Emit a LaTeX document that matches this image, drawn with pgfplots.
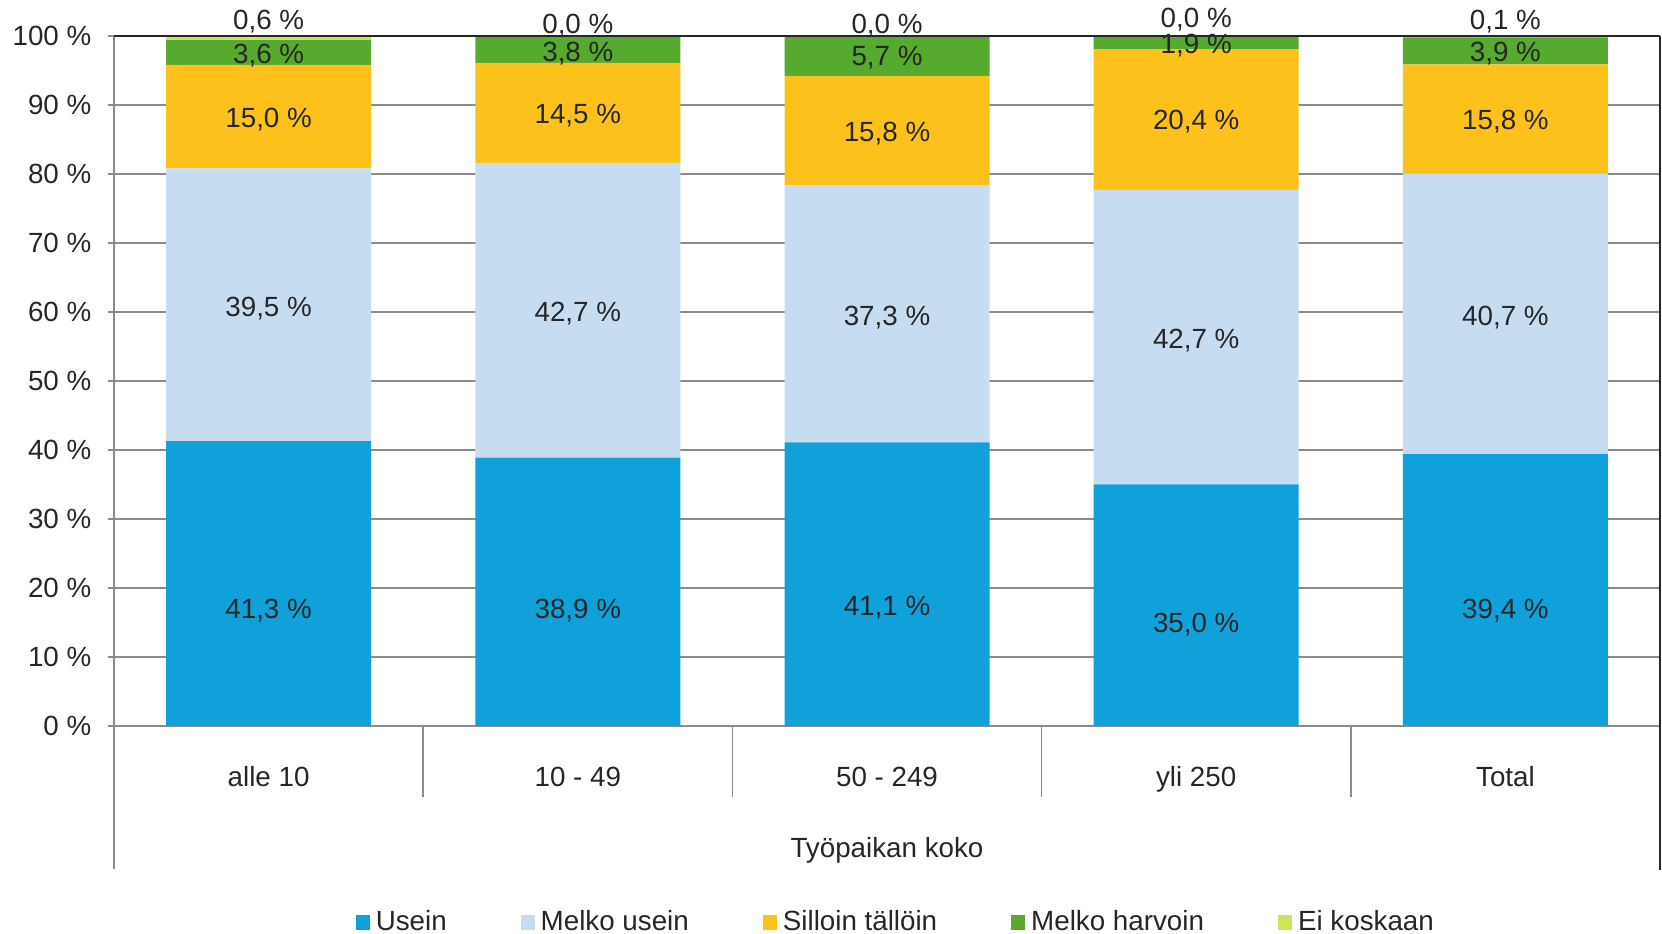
\documentclass[border=0pt]{standalone}
\usepackage{fontspec}
\setmainfont{Liberation Sans}
\usepackage{pgfplots}
\pgfplotsset{compat=1.18}
\definecolor{cUsein}{HTML}{10A0DA}
\definecolor{cMelkoUsein}{HTML}{C6DDF1}
\definecolor{cSilloin}{HTML}{FDC11C}
\definecolor{cHarvoin}{HTML}{56AA2D}
\definecolor{cEi}{HTML}{CDE55A}
\definecolor{txt}{HTML}{262626}
\definecolor{gridgray}{HTML}{8C8C8C}

\begin{document}
\begin{tikzpicture}[font=\fontsize{7.9}{9.5}\selectfont, text=txt]
\begin{axis}[
    scale only axis, width=154.6mm, height=69mm,
    xmin=-0.5, xmax=4.5, ymin=0, ymax=100,
    ybar stacked, bar width=20.5mm,
    axis x line*=bottom, axis y line*=left,
    axis line style={gridgray, line width=0.6pt},
    xtick={0,1,2,3,4},
    xticklabels={alle 10, 10 - 49, 50 - 249, yli 250, Total},
    xtick style={draw=none},
    xticklabel style={anchor=center, yshift=-4.2mm, text height=1.6ex, text depth=0.3ex},
    ytick={0,10,...,100},
    yticklabel={\pgfmathprintnumber{\tick}~\%},
    /pgf/number format/assume math mode=true,
    ytick style={gridgray, line width=0.5pt},
    tick align=outside, major tick length=0.6mm,
    yticklabel style={inner sep=0pt, anchor=east, xshift=-1.6mm},
    ymajorgrids, grid style={gridgray, line width=0.5pt},
    clip=false,
    legend columns=5,
    legend style={at={(0.507,-0.285)}, anchor=center, draw=none, inner sep=0pt,
        /tikz/every even column/.append style={column sep=6.8mm},
        nodes={inner sep=0.6mm, text=txt}},
    legend cell align=left,
    legend image code/.code={\fill[#1] (0mm,-0.75mm) rectangle (1.4mm,0.75mm);},
]
% frame lines behind the bars
\draw[black!85, line width=0.7pt] (rel axis cs:0,1) -- (rel axis cs:1,1);
\draw[black!85, line width=0.7pt] (rel axis cs:1,1) -- ([yshift=-14.4mm]rel axis cs:1,0);
\draw[gridgray, line width=0.6pt] (rel axis cs:0,0) -- ([yshift=-14.3mm]rel axis cs:0,0);
% category separators
\draw[gridgray, line width=0.5pt] (axis cs:0.5,0) -- ([yshift=-7.1mm]axis cs:0.5,0);
\draw[gridgray, line width=0.5pt] (axis cs:1.5,0) -- ([yshift=-7.1mm]axis cs:1.5,0);
\draw[gridgray, line width=0.5pt] (axis cs:2.5,0) -- ([yshift=-7.1mm]axis cs:2.5,0);
\draw[gridgray, line width=0.5pt] (axis cs:3.5,0) -- ([yshift=-7.1mm]axis cs:3.5,0);
\node at ([yshift=-12.4mm]rel axis cs:0.5,0) {Työpaikan koko};

\addplot[fill=cUsein, draw=none] coordinates {(0,41.3) (1,38.9) (2,41.1) (3,35.0) (4,39.4)};
\addlegendentry{Usein}
\addplot[fill=cMelkoUsein, draw=none] coordinates {(0,39.5) (1,42.7) (2,37.3) (3,42.7) (4,40.7)};
\addlegendentry{Melko usein}
\addplot[fill=cSilloin, draw=none] coordinates {(0,15.0) (1,14.5) (2,15.8) (3,20.4) (4,15.8)};
\addlegendentry{Silloin tällöin}
\addplot[fill=cHarvoin, draw=none] coordinates {(0,3.6) (1,3.8) (2,5.7) (3,1.9) (4,3.9)};
\addlegendentry{Melko harvoin}
\addplot[fill=cEi, draw=none] coordinates {(0,0.6) (1,0.0) (2,0.0) (3,0.0) (4,0.1)};
\addlegendentry{Ei koskaan}

\coordinate (O) at (rel axis cs:0,0);
\coordinate (T) at (rel axis cs:1,1);
\end{axis}

% data labels, drawn above the bars (x: category centre, y: percent)
\begin{scope}[shift={(O)}, x=30.92mm, y=0.69mm, every node/.style={yshift=-0.25mm}]
\node at (0.5,17.05) {41,3 \%};
\node at (0.5,60.8) {39,5 \%};
\node at (0.5,88.3) {15,0 \%};
\node at (0.5,97.5) {3,6 \%};
\node at (0.5,102.5) {0,6 \%};

\node at (1.5,17.05) {38,9 \%};
\node at (1.5,60.2) {42,7 \%};
\node at (1.5,88.8) {14,5 \%};
\node at (1.5,97.8) {3,8 \%};
\node at (1.5,101.8) {0,0 \%};

\node at (2.5,17.5) {41,1 \%};
\node at (2.5,59.6) {37,3 \%};
\node at (2.5,86.2) {15,8 \%};
\node at (2.5,97.2) {5,7 \%};
\node at (2.5,101.8) {0,0 \%};

\node at (3.5,15.05) {35,0 \%};
\node at (3.5,56.2) {42,7 \%};
\node at (3.5,87.9) {20,4 \%};
\node at (3.5,98.9) {1,9 \%};
\node at (3.5,102.8) {0,0 \%};

\node at (4.5,17.05) {39,4 \%};
\node at (4.5,59.6) {40,7 \%};
\node at (4.5,87.9) {15,8 \%};
\node at (4.5,97.8) {3,9 \%};
\node at (4.5,102.5) {0,1 \%};
\end{scope}

\pgfresetboundingbox
\path ([shift={(-11.4mm,-20.8mm)}]O) rectangle ([shift={(0.2mm,3.6mm)}]T);
\end{tikzpicture}
\end{document}
